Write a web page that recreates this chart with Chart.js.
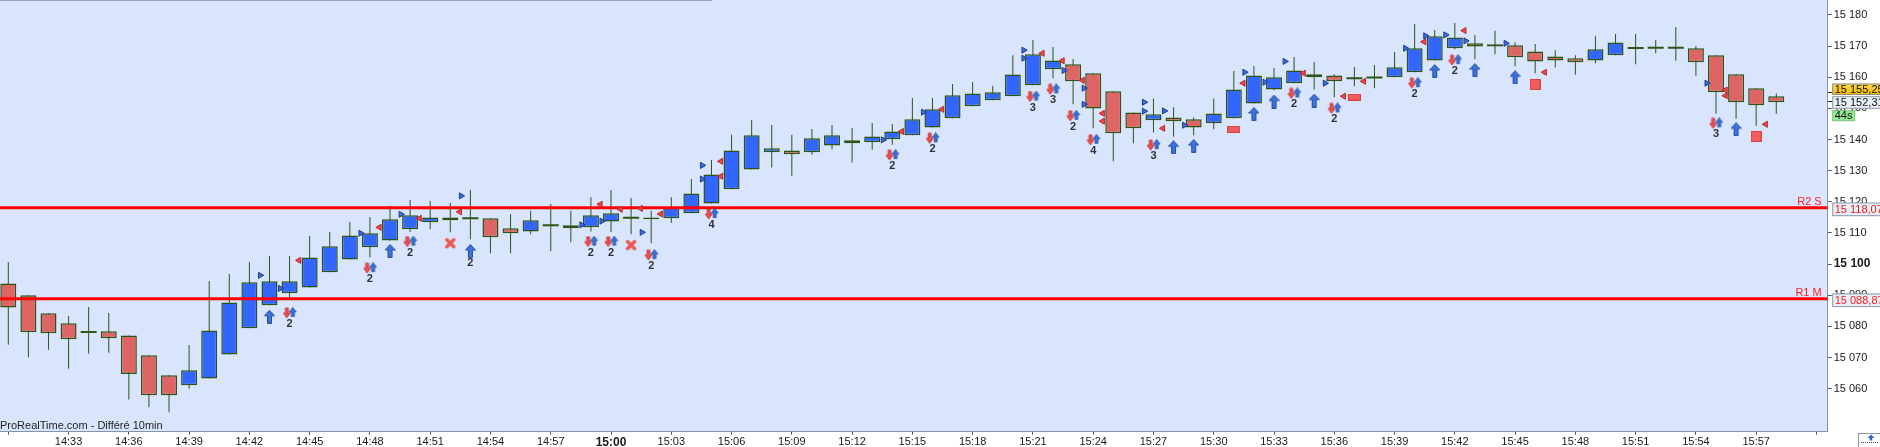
<!DOCTYPE html>
<html lang="fr">
<head>
<meta charset="UTF-8">
<title>Chandeliers 1 min</title>
<style>
  html, body { margin: 0; padding: 0; background: #fff; }
  #wrap { width: 1880px; height: 447px; }
</style>
<script src="https://cdn.jsdelivr.net/npm/chart.js"></script>
</head>
<body>
<div id="wrap"><canvas id="chart" width="1880" height="447"></canvas></div>
<script>
// one candle per minute, 14:30 -> 15:58
const times = [
  '14:30','14:31','14:32','14:33','14:34','14:35','14:36','14:37','14:38','14:39',
  '14:40','14:41','14:42','14:43','14:44','14:45','14:46','14:47','14:48','14:49',
  '14:50','14:51','14:52','14:53','14:54','14:55','14:56','14:57','14:58','14:59',
  '15:00','15:01','15:02','15:03','15:04','15:05','15:06','15:07','15:08','15:09',
  '15:10','15:11','15:12','15:13','15:14','15:15','15:16','15:17','15:18','15:19',
  '15:20','15:21','15:22','15:23','15:24','15:25','15:26','15:27','15:28','15:29',
  '15:30','15:31','15:32','15:33','15:34','15:35','15:36','15:37','15:38','15:39',
  '15:40','15:41','15:42','15:43','15:44','15:45','15:46','15:47','15:48','15:49',
  '15:50','15:51','15:52','15:53','15:54','15:55','15:56','15:57','15:58'
];

const opens = [
  15093.8,15090.0,15084.2,15081.0,15078.2,15078.4,15077.1,15070.7,15064.3,15061.1,
  15063.3,15071.0,15079.4,15086.8,15090.6,15092.5,15097.4,15101.5,15105.4,15107.6,
  15111.2,15113.4,15114.1,15114.7,15114.7,15111.5,15110.5,15112.5,15112.5,15111.8,
  15113.7,15114.9,15115.0,15114.7,15116.3,15119.5,15124.0,15130.4,15135.9,15136.5,
  15135.9,15138.1,15139.8,15139.1,15140.1,15141.4,15143.9,15146.8,15150.7,15152.6,
  15153.9,15157.4,15162.6,15164.2,15161.3,15155.5,15148.7,15146.2,15147.1,15146.5,
  15145.2,15146.8,15151.6,15156.1,15158.1,15160.0,15160.6,15159.7,15159.9,15160.0,
  15161.6,15165.4,15169.3,15170.9,15170.6,15170.3,15168.3,15166.7,15166.1,15165.4,
  15167.1,15169.4,15169.5,15169.5,15169.3,15167.1,15161.0,15156.5,15153.9
];
const highs = [
  15100.7,15090.0,15084.2,15083.3,15086.2,15084.3,15077.1,15070.7,15064.3,15074.0,
  15094.6,15096.8,15100.7,15102.6,15102.6,15109.0,15110.3,15113.5,15115.1,15118.7,
  15120.6,15120.3,15119.6,15123.8,15114.7,15116.1,15117.1,15119.3,15117.1,15121.5,
  15123.8,15121.2,15117.1,15121.5,15127.3,15133.4,15141.5,15146.3,15144.7,15141.5,
  15143.4,15144.7,15143.7,15145.3,15145.0,15153.3,15153.3,15157.8,15158.5,15157.2,
  15167.1,15172.0,15169.7,15165.9,15161.3,15155.5,15148.7,15153.2,15150.4,15147.1,
  15153.2,15162.0,15163.6,15163.0,15166.5,15164.9,15161.0,15163.3,15163.9,15168.1,
  15177.1,15175.2,15177.4,15173.6,15174.9,15171.2,15170.7,15168.7,15167.1,15173.2,
  15173.9,15173.9,15172.0,15176.1,15170.0,15167.1,15161.0,15156.5,15154.8
];
const lows = [
  15074.1,15070.1,15072.5,15066.4,15071.2,15071.5,15056.5,15054.0,15052.4,15060.0,
  15063.3,15071.0,15079.4,15086.8,15088.9,15092.5,15097.4,15101.5,15102.2,15107.6,
  15110.3,15111.2,15110.2,15108.0,15103.5,15103.5,15109.6,15104.1,15107.0,15110.5,
  15110.3,15109.6,15106.7,15113.3,15116.3,15119.5,15124.0,15130.4,15131.0,15128.4,
  15135.1,15136.9,15132.6,15136.7,15138.3,15141.4,15143.9,15146.8,15150.7,15152.6,
  15153.9,15157.4,15159.7,15151.3,15143.6,15133.0,15138.8,15142.3,15140.9,15141.4,
  15143.3,15146.8,15151.6,15155.8,15158.1,15156.1,15153.6,15157.1,15156.5,15160.0,
  15161.6,15165.4,15169.0,15165.8,15167.4,15163.5,15161.3,15163.1,15160.8,15164.5,
  15167.1,15164.2,15167.7,15165.3,15160.5,15148.3,15146.7,15144.4,15148.3
];
const closes = [
  15086.1,15078.1,15077.8,15075.9,15078.2,15076.2,15064.7,15057.9,15057.9,15065.9,
  15078.7,15087.7,15094.2,15094.5,15094.5,15102.1,15105.7,15109.2,15109.9,15114.4,
  15115.7,15115.0,15115.0,15114.7,15108.6,15109.9,15114.1,15112.5,15111.5,15115.7,
  15116.3,15114.9,15114.4,15118.2,15122.7,15128.8,15136.5,15141.4,15137.2,15135.3,
  15140.4,15141.4,15138.8,15141.0,15142.6,15146.5,15149.7,15154.2,15154.8,15155.2,
  15160.9,15167.4,15165.4,15158.7,15150.0,15142.0,15143.6,15148.1,15145.9,15143.9,
  15148.4,15156.1,15160.6,15160.0,15162.2,15161.0,15158.7,15159.7,15159.9,15163.2,
  15169.3,15173.2,15172.8,15169.9,15169.9,15166.4,15165.1,15165.4,15164.8,15169.0,
  15171.2,15169.4,15169.5,15169.5,15164.8,15155.2,15152.0,15151.0,15152.0
];

// indicator signals: [candle index, price]
const buyTriangles = [
  [13,15096.4],[14,15092.2],[18,15109.9],[20,15116.0],[23,15121.9],[29,15112.6],[30,15113.8],
  [32,15110.2],[35,15131.7],[35,15127.3],[44,15139.9],[46,15148.8],[51,15168.7],[51,15166.1],
  [53,15162.2],[54,15156.5],[54,15151.3],[57,15152.0],[57,15149.1],[58,15149.2],[59,15144.6],
  [62,15161.6],[63,15158.4],[64,15165.1],[66,15158.1],[70,15169.3],[71,15173.3],[72,15173.6],
  [73,15171.7],[75,15170.9],[85,15158.1]
];
const sellTriangles = [
  [14,15101.2],[18,15111.8],[20,15114.7],[22,15116.8],[29,15119.2],[30,15117.6],[31,15117.9],
  [32,15116.1],[35,15133.0],[35,15128.2],[44,15142.6],[46,15149.7],[51,15167.7],[52,15165.3],
  [53,15159.0],[54,15148.4],[54,15145.9],[57,15143.6],[61,15158.1],[64,15161.3],[66,15153.9],
  [67,15158.7],[70,15171.4],[72,15175.0],[76,15161.6],[85,15155.9],[85,15154.1],[87,15144.9]
];
const bigArrows = [
  [13,15083.1],[19,15104.2],[23,15104.2],[58,15137.5],[59,15137.9],[62,15148.2],
  [63,15152.2],[65,15152.5],[71,15162.0],[73,15162.3],[75,15160.0],[86,15143.3]
];
const bigArrowCounts = [null,null,2,null,null,null,null,null,null,null,null,null];
const arrowPairs = [
  [14,15084.3],[18,15098.7],[20,15107.2],[29,15107.2],[30,15107.2],[32,15102.9],[35,15116.1],
  [44,15135.0],[46,15140.4],[51,15153.8],[52,15156.1],[53,15147.6],[54,15139.9],[57,15138.2],
  [64,15154.8],[66,15150.0],[70,15158.1],[72,15165.5],[85,15145.2]
];
const arrowPairCounts = [2,2,2,2,2,2,4,2,2,3,3,2,4,3,2,2,2,2,3];
const crosses = [[22,15106.7],[31,15106.1]];
const flatStops = [[61,15143.3],[67,15153.6]];
const squareStops = [[76,15157.7],[87,15141.0]];

// horizontal levels
const levels = [15118.07, 15088.87];
const levelNames = ['R2 S', 'R1 M'];
const lastPrices = [15155.25, 15152.31];
const timerText = '44s';

const yTicks = [15060,15070,15080,15090,15100,15110,15120,15130,15140,15150,15160,15170,15180];
const yTickLabels = ['15 060','15 070','15 080','15 090','15 100','15 110','15 120','15 130','15 140','15 150','15 160','15 170','15 180'];

const FONT = "Arial, 'Liberation Sans', sans-serif";
const GREEN = '#2b5517';
const UP = '#3366ff';
const DOWN = '#df6464';
const X_MIN = -0.413, X_MAX = 90.56;

function fmt(v) {
  const s = v.toFixed(2).split('.');
  return s[0].replace(/\B(?=(\d{3})+(?!\d))/g, ' ') + ',' + s[1];
}

// small marker pictures
function makeBigArrow() {
  const c = document.createElement('canvas');
  c.width = 11; c.height = 14;
  const g = c.getContext('2d');
  g.beginPath();
  g.moveTo(5.5, 0.5); g.lineTo(10.5, 6); g.lineTo(7.5, 6); g.lineTo(7.5, 13.5);
  g.lineTo(3.5, 13.5); g.lineTo(3.5, 6); g.lineTo(0.5, 6); g.closePath();
  g.fillStyle = '#3d72dc'; g.fill();
  g.strokeStyle = '#24509f'; g.lineWidth = 1; g.stroke();
  return c;
}
function makeArrowPair() {
  const c = document.createElement('canvas');
  c.width = 15; c.height = 12;
  const g = c.getContext('2d');
  // red down
  g.beginPath();
  g.moveTo(3.2, 1); g.lineTo(6.2, 1); g.lineTo(6.2, 6); g.lineTo(8.2, 6); g.lineTo(4.7, 11);
  g.lineTo(1.2, 6); g.lineTo(3.2, 6); g.closePath();
  g.fillStyle = '#ec4c4c'; g.fill();
  g.strokeStyle = '#cc3434'; g.lineWidth = 0.8; g.stroke();
  // blue up
  g.beginPath();
  g.moveTo(10.7, 0.5); g.lineTo(14.2, 5); g.lineTo(12.2, 5); g.lineTo(12.2, 9.5);
  g.lineTo(9.2, 9.5); g.lineTo(9.2, 5); g.lineTo(7.2, 5); g.closePath();
  g.fillStyle = '#3a6fd6'; g.fill();
  g.strokeStyle = '#2653a8'; g.lineWidth = 0.8; g.stroke();
  return c;
}
function makeCross() {
  const c = document.createElement('canvas');
  c.width = 12; c.height = 12;
  const g = c.getContext('2d');
  g.strokeStyle = '#ee5858'; g.lineWidth = 3.5; g.lineCap = 'round';
  g.beginPath();
  g.moveTo(2.5, 2.5); g.lineTo(9.5, 9.5);
  g.moveTo(9.5, 2.5); g.lineTo(2.5, 9.5);
  g.stroke();
  return c;
}
function makeBox(w, h) {
  const c = document.createElement('canvas');
  c.width = w; c.height = h;
  const g = c.getContext('2d');
  g.fillStyle = '#f25e5e'; g.fillRect(0, 0, w, h);
  g.strokeStyle = '#d84242'; g.lineWidth = 1; g.strokeRect(0.5, 0.5, w - 1, h - 1);
  return c;
}

const pts = (arr, dx) => arr.map(p => ({ x: p[0] + dx, y: p[1] }));
const bodyIdx = times.map((t, i) => i).filter(i => opens[i] !== closes[i]);
const dojiIdx = times.map((t, i) => i).filter(i => opens[i] === closes[i]);

const bgPlugin = {
  id: 'bg',
  beforeDraw(chart) {
    const { ctx, chartArea: a } = chart;
    ctx.save();
    ctx.fillStyle = '#ffffff';
    ctx.fillRect(0, 0, chart.width, chart.height);
    ctx.fillStyle = '#d9e5fc';
    ctx.fillRect(a.left, a.top, a.right - a.left, a.bottom - a.top);
    ctx.strokeStyle = '#9aa3ad';
    ctx.lineWidth = 1;
    ctx.beginPath(); ctx.moveTo(0, 0.5); ctx.lineTo(712, 0.5); ctx.stroke();
    ctx.restore();
  }
};

const textPlugin = {
  id: 'texts',
  afterDatasetsDraw(chart) {
    const { ctx, chartArea: a, scales: { x, y } } = chart;
    ctx.save();
    // counts under the signal arrows
    ctx.font = 'bold 11px ' + FONT;
    ctx.fillStyle = '#30303c';
    ctx.textAlign = 'center';
    ctx.textBaseline = 'middle';
    arrowPairs.forEach((p, k) => {
      ctx.fillText(String(arrowPairCounts[k]), x.getPixelForValue(p[0]), y.getPixelForValue(p[1]) + 11);
    });
    bigArrows.forEach((p, k) => {
      if (bigArrowCounts[k] == null) return;
      ctx.fillText(String(bigArrowCounts[k]), x.getPixelForValue(p[0]), y.getPixelForValue(p[1]) + 12);
    });
    // level names
    ctx.font = '11px ' + FONT;
    ctx.fillStyle = '#ff1f1f';
    ctx.textAlign = 'right';
    ctx.textBaseline = 'alphabetic';
    levels.forEach((v, k) => {
      ctx.fillText(levelNames[k], a.right - 6, y.getPixelForValue(v) - 3);
    });
    // watermark
    ctx.fillStyle = '#1e1e1e';
    ctx.textAlign = 'left';
    ctx.fillText('ProRealTime.com - Différé 10min', a.left, a.bottom - 3);
    ctx.restore();
  },
  afterDraw(chart) {
    const { ctx, chartArea: a, scales: { y } } = chart;
    const bx = a.right + 5;
    const box = (text, yc, h, w, fill, stroke, color) => {
      ctx.fillStyle = fill;
      ctx.fillRect(bx, yc - h / 2, w, h);
      ctx.strokeStyle = stroke;
      ctx.lineWidth = 1;
      ctx.strokeRect(bx, yc - h / 2, w, h);
      ctx.fillStyle = color;
      ctx.fillText(text, bx + 2, yc + 0.5);
    };
    ctx.save();
    ctx.font = '11px ' + FONT;
    ctx.textAlign = 'left';
    ctx.textBaseline = 'middle';
    levels.forEach(v => {
      box(fmt(v), y.getPixelForValue(v) + 1.5, 12.7, 60, '#e9eff9', '#8c98aa', '#ee1c1c');
    });
    // price dashes
    ctx.strokeStyle = '#222';
    lastPrices.forEach(v => {
      const py = Math.round(y.getPixelForValue(v)) + 0.5;
      ctx.beginPath(); ctx.moveTo(a.right, py); ctx.lineTo(a.right + 5, py); ctx.stroke();
    });
    const g = ctx.createLinearGradient(0, 84, 0, 95);
    g.addColorStop(0, '#ffd84a'); g.addColorStop(1, '#f2b800');
    box(fmt(lastPrices[0]), y.getPixelForValue(lastPrices[0]) - 2.8, 10.6, 60, g, '#8a8a8a', '#111');
    box(fmt(lastPrices[1]), y.getPixelForValue(lastPrices[1]) + 1.3, 11.6, 60, '#eaf0f8', '#8a96a8', '#111');
    box(timerText, y.getPixelForValue(lastPrices[1]) + 14.5, 10, 22, '#93e993', '#7cc27c', '#111');
    // corner button
    ctx.fillStyle = '#ffffff';
    ctx.fillRect(1858.5, 433.5, 22, 14);
    ctx.strokeStyle = '#8a96a8';
    ctx.strokeRect(1858.5, 433.5, 22, 14);
    ctx.fillStyle = '#2f63c8';
    ctx.beginPath();
    ctx.moveTo(1871, 434.5); ctx.lineTo(1874.5, 438); ctx.lineTo(1872.2, 438); ctx.lineTo(1872.2, 440.5);
    ctx.lineTo(1869.8, 440.5); ctx.lineTo(1869.8, 438); ctx.lineTo(1867.5, 438); ctx.closePath(); ctx.fill();
    ctx.fillStyle = '#444';
    for (let dx = 1861; dx < 1879; dx += 2) ctx.fillRect(dx, 442, 1, 1);
    ctx.restore();
  }
};

new Chart(document.getElementById('chart'), {
  type: 'bar',
  data: {
    datasets: [
      {
        label: 'wicks',
        order: 30,
        grouped: false,
        barThickness: 1,
        backgroundColor: GREEN,
        borderWidth: 0,
        inflateAmount: 0,
        data: times.map((t, i) => ({ x: i, y: [lows[i], highs[i]] }))
      },
      {
        label: 'bodies',
        order: 20,
        grouped: false,
        barThickness: 16,
        borderWidth: 1.5,
        borderColor: GREEN,
        borderSkipped: false,
        inflateAmount: 0,
        backgroundColor: bodyIdx.map(i => closes[i] > opens[i] ? UP : DOWN),
        data: bodyIdx.map(i => ({ x: i, y: [opens[i], closes[i]] }))
      },
      {
        type: 'scatter',
        label: 'doji',
        order: 19,
        pointStyle: 'line',
        radius: 8,
        borderWidth: 2,
        borderColor: GREEN,
        data: dojiIdx.map(i => ({ x: i, y: opens[i] }))
      },
      ...levels.map(v => ({
        type: 'line',
        label: 'level',
        order: 10,
        borderColor: '#ff0000',
        borderWidth: 3,
        pointRadius: 0,
        data: [{ x: X_MIN, y: v }, { x: X_MAX, y: v }]
      })),
      {
        type: 'scatter',
        label: 'buy',
        order: 2,
        pointStyle: 'triangle',
        rotation: 90,
        radius: 3.5,
        borderWidth: 1,
        backgroundColor: '#3b6ee0',
        borderColor: '#1c3c94',
        data: pts(buyTriangles, -0.46)
      },
      {
        type: 'scatter',
        label: 'sell',
        order: 2,
        pointStyle: 'triangle',
        rotation: -90,
        radius: 3.5,
        borderWidth: 1,
        backgroundColor: '#f04848',
        borderColor: '#b82a2a',
        data: pts(sellTriangles, 0.47)
      },
      { type: 'scatter', label: 'arrows', order: 1, pointStyle: makeBigArrow(), radius: 5, data: pts(bigArrows, 0) },
      { type: 'scatter', label: 'pairs', order: 1, pointStyle: makeArrowPair(), radius: 5, data: pts(arrowPairs, 0) },
      { type: 'scatter', label: 'cross', order: 1, pointStyle: makeCross(), radius: 5, data: pts(crosses, 0) },
      { type: 'scatter', label: 'stop', order: 1, pointStyle: makeBox(13, 7), radius: 5, data: pts(flatStops, 0) },
      { type: 'scatter', label: 'stop2', order: 1, pointStyle: makeBox(11, 11), radius: 5, data: pts(squareStops, 0) }
    ]
  },
  options: {
    responsive: false,
    animation: false,
    devicePixelRatio: 1,
    layout: { padding: 0, autoPadding: false },
    plugins: { legend: { display: false }, tooltip: { enabled: false } },
    scales: {
      x: {
        type: 'linear',
        position: 'bottom',
        min: X_MIN,
        max: X_MAX,
        offset: false,
        grid: { drawOnChartArea: false, tickLength: 3, color: '#4a5565', offset: false },
        border: { color: '#8594a8', width: 1 },
        afterBuildTicks: s => {
          const t = [];
          for (let i = 0; i <= times.length + 1; i += 3) t.push({ value: i });
          s.ticks = t;
        },
        afterFit: s => { s.height = 15.3; s.paddingLeft = 0; s.paddingRight = 0; },
        ticks: {
          autoSkip: false,
          maxRotation: 0,
          padding: 1,
          color: '#1a1a1a',
          font: c => times[c.tick && c.tick.value] === '15:00'
            ? { family: FONT, size: 12, weight: 'bold' }
            : { family: FONT, size: 11 },
          callback: v => (v > 0 && v < times.length) ? times[v] : ''
        }
      },
      y: {
        type: 'linear',
        position: 'right',
        min: 15046.18,
        max: 15184.81,
        grid: { drawOnChartArea: false, tickLength: 4, color: '#4a5565' },
        border: { color: '#8594a8', width: 1 },
        afterBuildTicks: s => { s.ticks = yTicks.map(v => ({ value: v })); },
        afterFit: s => { s.width = 52.3; s.paddingTop = 0; s.paddingBottom = 0; },
        ticks: {
          padding: 2,
          color: '#1a1a1a',
          font: c => (c.tick && c.tick.value === 15100)
            ? { family: FONT, size: 12, weight: 'bold' }
            : { family: FONT, size: 11 },
          callback: v => yTickLabels[yTicks.indexOf(v)]
        }
      }
    }
  },
  plugins: [bgPlugin, textPlugin]
});
</script>
</body>
</html>
